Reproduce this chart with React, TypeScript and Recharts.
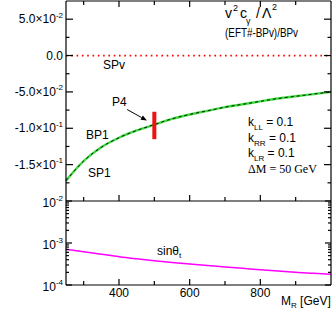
import React from "react";
import { Line, LineChart, ReferenceLine, XAxis, YAxis } from "recharts";

const massGeV = [250, 300, 350, 400, 450, 500, 550, 600, 650, 700, 750, 800, 850, 900, 950, 1000];
const bp1Ratio = [
  -0.172, -0.145, -0.126, -0.113, -0.103, -0.095, -0.087, -0.081, -0.076, -0.071, -0.067,
  -0.063, -0.059, -0.056, -0.053, -0.05
];
const spvRatio = [0, 0, 0, 0, 0, 0, 0, 0, 0, 0, 0, 0, 0, 0, 0, 0];
const sinThetaT = [
  7.1e-4, 6.2e-4, 5.4e-4, 4.7e-4, 4.2e-4, 3.8e-4, 3.45e-4, 3.15e-4, 2.9e-4, 2.7e-4, 2.5e-4,
  2.3e-4, 2.15e-4, 2.0e-4, 1.9e-4, 1.8e-4
];

const massTicks = [300, 400, 500, 600, 700, 800, 900];
const massLabels = [400, 600, 800];

const ratioTicks = [-0.175, -0.15, -0.125, -0.1, -0.075, -0.05, -0.025, 0, 0.025, 0.05];
const ratioLabelValues = [0.05, 0, -0.05, -0.1, -0.15];
const ratioLabelMantissa = ["5.0", "0.0", "-5.0", "-1.0", "-1.5"];
const ratioLabelExponent = ["-2", "", "-2", "-1", "-1"];

const sinTicks = [
  1e-4, 2e-4, 3e-4, 4e-4, 5e-4, 6e-4, 7e-4, 8e-4, 9e-4,
  1e-3, 2e-3, 3e-3, 4e-3, 5e-3, 6e-3, 7e-3, 8e-3, 9e-3, 1e-2
];
const sinLabelValues = [1e-4, 1e-3, 1e-2];
const sinLabelExponent = ["-4", "-3", "-2"];

const p4Mass = 500;
const p4Range = [-0.0773, -0.115];
const arrowFrom = { x: 423, y: -0.0742 };
const arrowTo = { x: 479, y: -0.0893 };

const rows = massGeV.map((m, i) => ({
  m,
  bp1: bp1Ratio[i],
  spv: spvRatio[i],
  sin: sinThetaT[i]
}));

const SANS = "'Liberation Sans', Arial, Helvetica, sans-serif";
const SERIF = "'Liberation Serif', 'Times New Roman', serif";
const AXIS = { stroke: "#000", strokeWidth: 1.2 };

function findIndex(list: number[], v: number): number {
  return list.findIndex((l) => Math.abs(l - v) < Math.abs(v) * 1e-6 + 1e-9);
}

function RatioTickLeft(props: any) {
  const { x, y, payload } = props;
  const i = findIndex(ratioLabelValues, payload.value);
  const major = i >= 0;
  return (
    <g>
      <line x1={x} x2={x + (major ? 7 : 3.5)} y1={y} y2={y} {...AXIS} />
      {major && (
        <text x={x - 3} y={y + 4} textAnchor="end" fontSize={12} fontFamily={SANS} fill="#000">
          {ratioLabelExponent[i] ? `${ratioLabelMantissa[i]}×10` : ratioLabelMantissa[i]}
          {ratioLabelExponent[i] && (
            <tspan dy={-5.5} fontSize={8}>
              {ratioLabelExponent[i]}
            </tspan>
          )}
        </text>
      )}
    </g>
  );
}

function RatioTickRight(props: any) {
  const { x, y, payload } = props;
  const major = findIndex(ratioLabelValues, payload.value) >= 0;
  return <line x1={x} x2={x - (major ? 7 : 3.5)} y1={y} y2={y} {...AXIS} />;
}

function SinTickLeft(props: any) {
  const { x, y, payload } = props;
  const i = findIndex(sinLabelValues, payload.value);
  const major = i >= 0;
  return (
    <g>
      <line x1={x} x2={x + (major ? 6 : 3)} y1={y} y2={y} {...AXIS} />
      {major && (
        <text x={x - 3} y={y + 6} textAnchor="end" fontSize={12} fontFamily={SANS} fill="#000">
          10
          <tspan dy={-6} fontSize={8}>
            {sinLabelExponent[i]}
          </tspan>
        </text>
      )}
    </g>
  );
}

function SinTickRight(props: any) {
  const { x, y, payload } = props;
  const major = findIndex(sinLabelValues, payload.value) >= 0;
  return <line x1={x} x2={x - (major ? 6 : 3)} y1={y} y2={y} {...AXIS} />;
}

function MassTickUp(props: any) {
  const { x, y, payload } = props;
  const major = massLabels.includes(payload.value);
  return <line x1={x} x2={x} y1={y} y2={y - (major ? 6 : 4)} {...AXIS} />;
}

function MassTickDown(props: any) {
  const { x, y, payload } = props;
  const major = massLabels.includes(payload.value);
  return <line x1={x} x2={x} y1={y} y2={y + (major ? 6 : 4)} {...AXIS} />;
}

function MassTickLabelled(props: any) {
  const { x, y, payload } = props;
  const major = massLabels.includes(payload.value);
  return (
    <g>
      <line x1={x} x2={x} y1={y} y2={y - (major ? 6 : 4)} {...AXIS} />
      {major && (
        <text x={x} y={y + 12} textAnchor="middle" fontSize={12} fontFamily={SANS} fill="#000">
          {payload.value}
        </text>
      )}
    </g>
  );
}

function ArrowShape(props: any) {
  const { x1, y1, x2, y2 } = props;
  const angle = Math.atan2(y2 - y1, x2 - x1);
  const len = 6;
  const half = 2.5;
  const bx = x2 - len * Math.cos(angle);
  const by = y2 - len * Math.sin(angle);
  const px = -Math.sin(angle) * half;
  const py = Math.cos(angle) * half;
  return (
    <g>
      <line x1={x1} y1={y1} x2={bx} y2={by} stroke="#000" strokeWidth={1} />
      <polygon points={`${x2},${y2} ${bx + px},${by + py} ${bx - px},${by - py}`} fill="#000" />
    </g>
  );
}

export default function App() {
  return (
    <div style={{ position: "absolute", left: 0, top: 0, width: 332, height: 313, background: "#fff" }}>
      <div style={{ position: "absolute", left: 0, top: 0 }}>
        <LineChart width={332} height={202} data={rows} margin={{ top: 0, right: 0, bottom: 0, left: 0 }}>
          <XAxis
            dataKey="m"
            type="number"
            domain={[250, 1000]}
            ticks={massTicks}
            interval={0}
            height={1}
            tickSize={0}
            tickMargin={0}
            tickLine={false}
            axisLine={AXIS}
            tick={MassTickUp}
          />
          <XAxis
            xAxisId="top"
            orientation="top"
            dataKey="m"
            type="number"
            domain={[250, 1000]}
            ticks={massTicks}
            interval={0}
            height={1}
            tickSize={0}
            tickMargin={0}
            tickLine={false}
            axisLine={AXIS}
            tick={MassTickDown}
          />
          <YAxis
            type="number"
            domain={[-0.2, 0.075]}
            ticks={ratioTicks}
            interval={0}
            width={66}
            tickSize={0}
            tickMargin={0}
            tickLine={false}
            axisLine={AXIS}
            tick={RatioTickLeft}
            allowDataOverflow
          />
          <YAxis
            yAxisId="right"
            orientation="right"
            type="number"
            domain={[-0.2, 0.075]}
            ticks={ratioTicks}
            interval={0}
            width={1}
            tickSize={0}
            tickMargin={0}
            tickLine={false}
            axisLine={AXIS}
            tick={RatioTickRight}
            allowDataOverflow
          />
          <Line
            dataKey="spv"
            type="linear"
            stroke="#ff0000"
            strokeWidth={1.8}
            strokeDasharray="1.6 3.7"
            dot={false}
            isAnimationActive={false}
          />
          <Line
            dataKey="bp1"
            type="monotone"
            stroke="#3ddc3d"
            strokeWidth={2.4}
            dot={false}
            isAnimationActive={false}
          />
          <Line
            dataKey="bp1"
            type="monotone"
            stroke="#000"
            strokeWidth={0.9}
            strokeDasharray="3 3"
            dot={false}
            isAnimationActive={false}
          />
          <ReferenceLine
            segment={[
              { x: p4Mass, y: p4Range[0] },
              { x: p4Mass, y: p4Range[1] }
            ]}
            stroke="#ee1111"
            strokeWidth={4}
          />
          <ReferenceLine
            segment={[arrowFrom, arrowTo]}
            stroke="#000"
            shape={ArrowShape}
          />
        </LineChart>
      </div>
      <div style={{ position: "absolute", left: 0, top: 181 }}>
        <LineChart width={332} height={132} data={rows} margin={{ top: 20, right: 0, bottom: 0, left: 0 }}>
          <XAxis
            dataKey="m"
            type="number"
            domain={[250, 1000]}
            ticks={massTicks}
            interval={0}
            height={28}
            tickSize={0}
            tickMargin={0}
            tickLine={false}
            axisLine={AXIS}
            tick={MassTickLabelled}
          />
          <YAxis
            type="number"
            scale="log"
            domain={[1e-4, 1e-2]}
            ticks={sinTicks}
            interval={0}
            width={66}
            tickSize={0}
            tickMargin={0}
            tickLine={false}
            axisLine={AXIS}
            tick={SinTickLeft}
            allowDataOverflow
          />
          <YAxis
            yAxisId="right"
            orientation="right"
            type="number"
            scale="log"
            domain={[1e-4, 1e-2]}
            ticks={sinTicks}
            interval={0}
            width={1}
            tickSize={0}
            tickMargin={0}
            tickLine={false}
            axisLine={AXIS}
            tick={SinTickRight}
            allowDataOverflow
          />
          <Line
            dataKey="sin"
            type="monotone"
            stroke="#ff00ff"
            strokeWidth={1.5}
            dot={false}
            isAnimationActive={false}
          />
        </LineChart>
      </div>
      <svg
        width={332}
        height={313}
        style={{ position: "absolute", left: 0, top: 0, pointerEvents: "none" }}
        fontFamily={SANS}
        fill="#000"
      >
        <text x={225} y={18} fontSize={14}>v</text>
        <text x={233} y={11} fontSize={9}>2</text>
        <text x={240} y={18} fontSize={14}>c</text>
        <text x={246} y={24} fontSize={9}>γ</text>
        <text x={256} y={18} fontSize={14}>/</text>
        <text x={262} y={18} fontSize={14}>Λ</text>
        <text x={272} y={10} fontSize={9}>2</text>
        <text x={225} y={37} fontSize={12} textLength={73} lengthAdjust="spacingAndGlyphs">
          (EFT#-BPv)/BPv
        </text>
        <text x={103} y={69} fontSize={12}>SPv</text>
        <text x={112} y={106} fontSize={12}>P4</text>
        <text x={86} y={139} fontSize={12}>BP1</text>
        <text x={88} y={177} fontSize={12}>SP1</text>
        <text x={248} y={126} fontSize={12}>
          k<tspan dy={4} fontSize={8}>LL</tspan>
          <tspan dy={-4}> = 0.1</tspan>
        </text>
        <text x={248} y={142} fontSize={12}>
          k<tspan dy={4} fontSize={8}>RR</tspan>
          <tspan dy={-4}> = 0.1</tspan>
        </text>
        <text x={248} y={157} fontSize={12}>
          k<tspan dy={4} fontSize={8}>LR</tspan>
          <tspan dy={-4}> = 0.1</tspan>
        </text>
        <text x={248} y={173} fontSize={12} fontFamily={SERIF}>ΔM = 50 GeV</text>
        <text x={157} y={255} fontSize={12}>
          sinθ<tspan dy={3} fontSize={8}>t</tspan>
        </text>
        <text x={281} y={305} fontSize={12}>
          M<tspan dy={3} fontSize={8}>R</tspan>
          <tspan dy={-3}> [GeV]</tspan>
        </text>
      </svg>
    </div>
  );
}
